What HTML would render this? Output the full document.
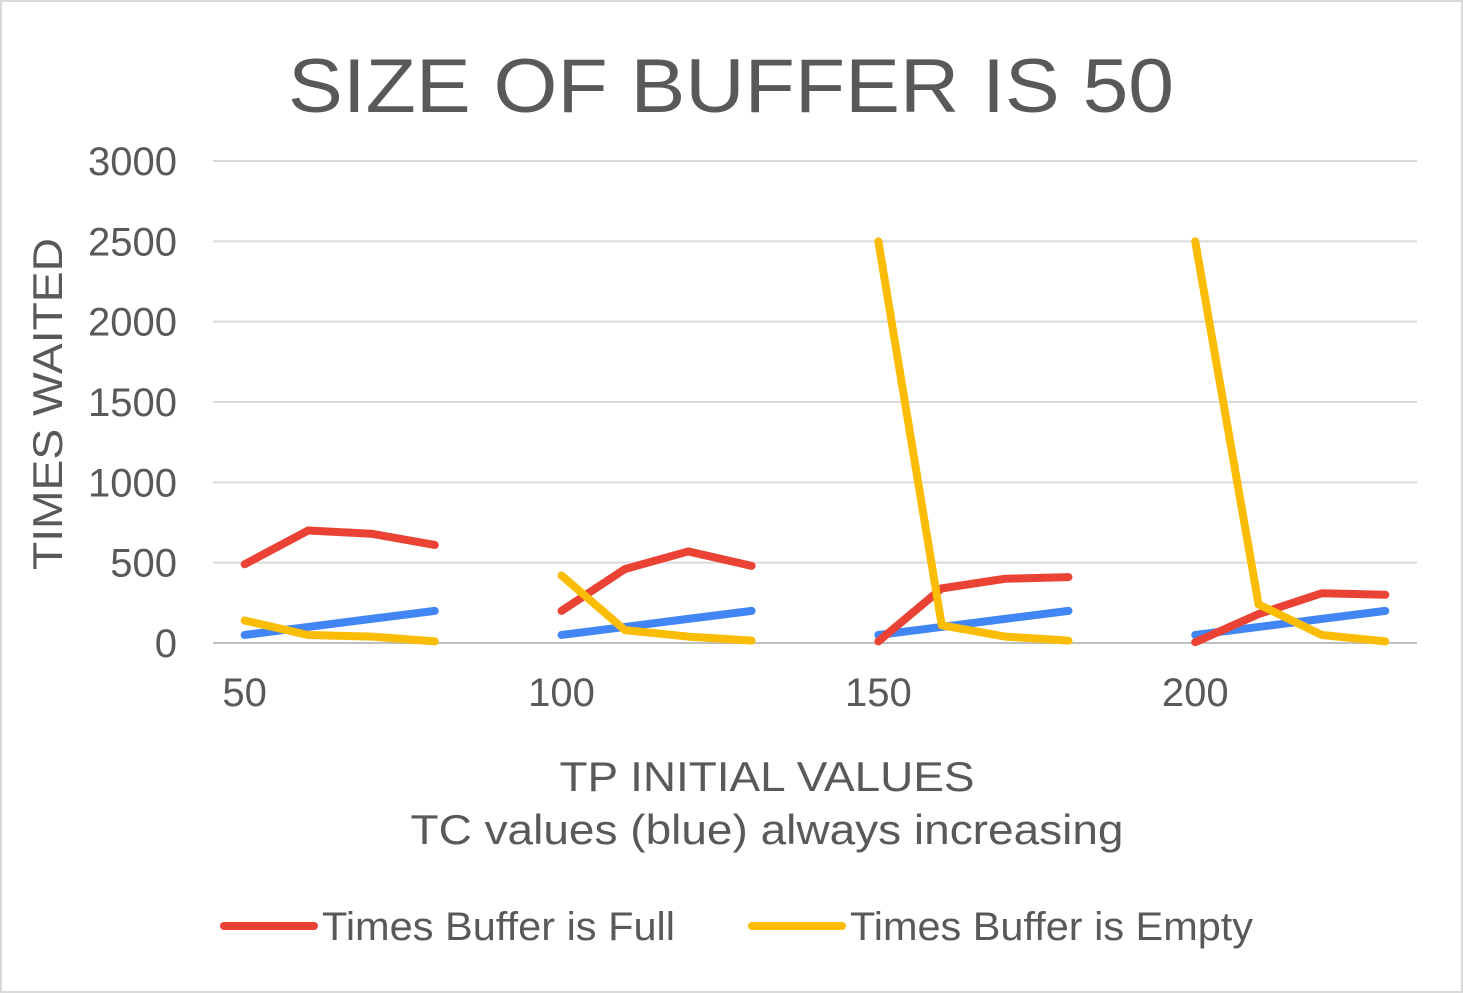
<!DOCTYPE html>
<html><head><meta charset="utf-8"><style>
body{margin:0;background:#fff;}
svg{display:block;font-family:"Liberation Sans",sans-serif;}
</style></head><body>
<svg id="chart" width="1463" height="993" viewBox="0 0 1463 993">
<rect x="1" y="1" width="1461" height="991" fill="#fff" stroke="#d9d9d9" stroke-width="2"/>
<text x="731" y="112" text-anchor="middle" font-size="76" fill="#595959" textLength="886" lengthAdjust="spacingAndGlyphs">SIZE OF BUFFER IS 50</text>
<g id="grid"></g><g id="yticks"></g><g id="xticks"></g><g id="series"></g>
<text transform="translate(62,404) rotate(-90)" text-anchor="middle" font-size="42" fill="#595959" textLength="332" lengthAdjust="spacingAndGlyphs">TIMES WAITED</text>
<text x="767" y="791" text-anchor="middle" font-size="42" fill="#595959" textLength="415" lengthAdjust="spacingAndGlyphs">TP INITIAL  VALUES</text>
<text x="767" y="844" text-anchor="middle" font-size="42" fill="#595959" textLength="713" lengthAdjust="spacingAndGlyphs">TC  values (blue) always increasing</text>
<g><line x1="224" y1="926" x2="314" y2="926" stroke="#ea4335" stroke-width="8" stroke-linecap="round"/><text x="322" y="940" font-size="40" fill="#595959" textLength="353" lengthAdjust="spacingAndGlyphs">Times Buffer is Full</text></g>
<g><line x1="752" y1="926" x2="842" y2="926" stroke="#fbbc04" stroke-width="8" stroke-linecap="round"/><text x="850" y="940" font-size="40" fill="#595959" textLength="403" lengthAdjust="spacingAndGlyphs">Times Buffer is Empty</text></g>
</svg>
<script>
const categories=[50,60,70,80,90,100,110,120,130,140,150,160,170,180,190,200,210,220,230];
const xLabels=["50","100","150","200"];
const yTicks=[0,500,1000,1500,2000,2500,3000];
const blueValues=[50,100,150,200,null,50,100,150,200,null,50,100,150,200,null,50,100,150,200];
const fullValues=[490,700,680,610,null,200,460,570,480,null,10,340,400,410,null,5,180,310,300];
const emptyValues=[140,50,40,10,null,420,80,40,15,null,2500,110,40,15,null,2500,240,50,10];
const NS="http://www.w3.org/2000/svg";
const x0=213,x1=1417,yb=643,yt=161,ymax=3000;
const band=(x1-x0)/categories.length;
function xs(i){return x0+band*(i+0.5);}
function ys(v){return yb-(v/ymax)*(yb-yt);}
function mk(tag,attrs,parent){const e=document.createElementNS(NS,tag);for(const k in attrs)e.setAttribute(k,attrs[k]);parent.appendChild(e);return e;}
const grid=document.getElementById('grid'),yt_g=document.getElementById('yticks');
yTicks.forEach(t=>{
 const l=mk('line',{x1:x0,x2:x1,y1:ys(t),y2:ys(t),stroke:t===0?'#bfbfbf':'#d9d9d9','stroke-width':2},grid);
 
 
 const tx=mk('text',{x:177,y:ys(t)+14,'text-anchor':'end','font-size':40,fill:'#595959'},yt_g);
 tx.textContent=t;
 
 
});
const xg=document.getElementById('xticks');
xLabels.forEach(lab=>{
 const i=categories.indexOf(+lab);
 const tx=mk('text',{x:xs(i),y:706,'text-anchor':'middle','font-size':40,fill:'#595959'},xg);
 tx.textContent=lab;
 
 
});
const sg=document.getElementById('series');
function draw(vals,color,name){
 let segs=[],cur=[];
 vals.forEach((v,i)=>{if(v==null){if(cur.length)segs.push(cur);cur=[];}else cur.push(xs(i)+','+ys(v));});
 if(cur.length)segs.push(cur);
 segs.forEach((s,k)=>{
  const p=mk('polyline',{points:s.join(' '),fill:'none',stroke:color,'stroke-width':8,'stroke-linecap':'round','stroke-linejoin':'round'},sg);
  
  
 });
}
draw(blueValues,'#4285f4','tc-values');
draw(fullValues,'#ea4335','times-buffer-full');
draw(emptyValues,'#fbbc04','times-buffer-empty');
</script>
</body></html>
